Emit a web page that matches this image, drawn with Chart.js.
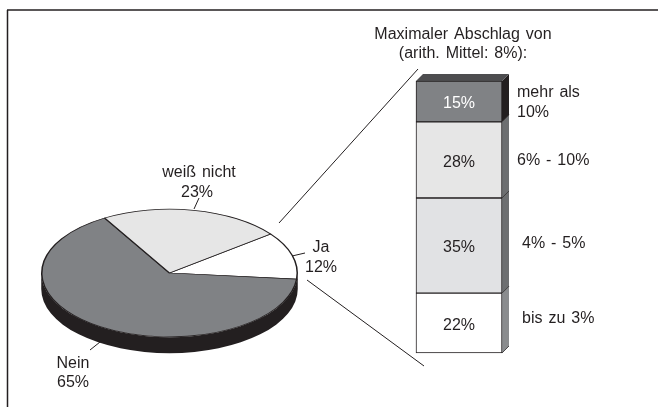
<!DOCTYPE html>
<html>
<head>
<meta charset="utf-8">
<script src="https://cdn.jsdelivr.net/npm/chart.js@4"></script>
<style>
html, body { margin: 0; padding: 0; background: #fff; }
#wrap { position: relative; width: 658px; height: 407px; overflow: hidden; }
canvas { position: absolute; left: 0; top: 0; }
</style>
</head>
<body>
<div id="wrap">
    <canvas id="pie" width="658" height="407"></canvas>
    <canvas id="bar" width="658" height="407"></canvas>
</div>
<script>
const pieLabels = ["Ja", "Nein", "weiß nicht"];
const pieValues = [12, 65, 23];
const pieColors = ["#ffffff", "#808285", "#e6e6e6"];

const barLabels = ["bis zu 3%", "4% - 5%", "6% - 10%", "mehr als 10%"];
const barValues = [22, 35, 28, 15];
const barColors = ["#ffffff", "#e1e2e4", "#e6e6e6", "#808285"];
const barSideColors = ["#8a8c8e", "#6d6f71", "#6d6f71", "#231f20"];
const barTextColors = ["#231f20", "#231f20", "#231f20", "#ffffff"];

const FONT = '16px "Liberation Sans", Arial, sans-serif';
const INK = "#231f20";
const SQUASH = 0.5;
const PIE_DEPTH = 16;
const BAR_DEPTH = 7;

// free text: [text, x, y, align]
const notes = [
    ["Maximaler Abschlag von", 463, 39, "center"],
    ["(arith. Mittel: 8%):", 463, 58, "center"],
    ["weiß nicht", 199, 177, "center"],
    ["23%", 197, 197, "center"],
    ["Ja", 321, 252, "center"],
    ["12%", 321, 272, "center"],
    ["Nein", 73, 368, "center"],
    ["65%", 73, 387, "center"],
    ["mehr als", 517, 97, "left"],
    ["10%", 517, 117, "left"],
    ["6% - 10%", 517, 165, "left"],
    ["4% - 5%", 522, 248, "left"],
    ["bis zu 3%", 522, 323, "left"],
];

// frame: [x1, y1, x2, y2]
const frame = [
    [7.5, 407, 7.5, 10],
    [7, 10, 658, 10],
];

// connector and leader lines: [x1, y1, x2, y2]
const rules = [
    [279, 223, 418, 69],
    [307, 280, 424, 366],
    [194, 209, 199, 198],
    [292, 256, 305, 253],
    [90, 350, 100, 342],
];

const squashPie = {
    id: "squashPie",
    beforeDatasetsDraw(chart) {
        const ctx = chart.ctx;
        const arc = chart.getDatasetMeta(0).data[0];
        const r = arc.outerRadius + 0.5;
        // rim of the disc, below the top face
        ctx.save();
        ctx.fillStyle = "#231f20";
        ctx.beginPath();
        ctx.ellipse(arc.x, arc.y + PIE_DEPTH, r, r * SQUASH, 0, 0, Math.PI);
        ctx.lineTo(arc.x - r, arc.y);
        ctx.ellipse(arc.x, arc.y, r, r * SQUASH, 0, Math.PI, 0, true);
        ctx.closePath();
        ctx.fill();
        ctx.restore();

        ctx.save();
        ctx.translate(arc.x, arc.y);
        ctx.scale(1, SQUASH);
        ctx.translate(-arc.x, -arc.y);
    },
    afterDatasetsDraw(chart) {
        chart.ctx.restore();
    },
};

const barFaces = {
    id: "barFaces",
    beforeDatasetsDraw(chart) {
        const ctx = chart.ctx;
        ctx.save();
        ctx.strokeStyle = INK;
        ctx.lineWidth = 0.75;
        chart.data.datasets.forEach((ds, i) => {
            const el = chart.getDatasetMeta(i).data[0];
            const right = el.x + el.width / 2;
            ctx.fillStyle = barSideColors[i];
            ctx.beginPath();
            ctx.moveTo(right, el.base);
            ctx.lineTo(right + BAR_DEPTH, el.base - BAR_DEPTH);
            ctx.lineTo(right + BAR_DEPTH, el.y - BAR_DEPTH);
            ctx.lineTo(right, el.y);
            ctx.closePath();
            ctx.fill();
            ctx.beginPath();
            ctx.moveTo(right, el.base);
            ctx.lineTo(right + BAR_DEPTH, el.base - BAR_DEPTH);
            ctx.stroke();
            if (i === chart.data.datasets.length - 1) {
                ctx.fillStyle = "#4d4d4f";
                ctx.beginPath();
                ctx.moveTo(el.x - el.width / 2, el.y);
                ctx.lineTo(el.x - el.width / 2 + BAR_DEPTH, el.y - BAR_DEPTH);
                ctx.lineTo(right + BAR_DEPTH, el.y - BAR_DEPTH);
                ctx.lineTo(right, el.y);
                ctx.closePath();
                ctx.fill();
            }
        });
        ctx.restore();
    },
    afterDatasetsDraw(chart) {
        const ctx = chart.ctx;
        ctx.save();
        ctx.font = FONT;
        ctx.textAlign = "center";
        ctx.textBaseline = "middle";
        chart.data.datasets.forEach((ds, i) => {
            const el = chart.getDatasetMeta(i).data[0];
            ctx.fillStyle = barTextColors[i];
            ctx.fillText(ds.data[0] + "%", el.x, (el.y + el.base) / 2 + 2.5);
        });
        ctx.restore();
    },
};

const annotations = {
    id: "annotations",
    afterDraw(chart) {
        const ctx = chart.ctx;
        ctx.save();
        ctx.strokeStyle = INK;
        const stroke = ([x1, y1, x2, y2]) => {
            ctx.beginPath();
            ctx.moveTo(x1, y1);
            ctx.lineTo(x2, y2);
            ctx.stroke();
        };
        ctx.lineWidth = 1.5;
        frame.forEach(stroke);
        ctx.lineWidth = 1;
        rules.forEach(stroke);
        ctx.font = FONT;
        ctx.wordSpacing = "1.5px";
        ctx.fillStyle = INK;
        notes.forEach(([text, x, y, align]) => {
            ctx.textAlign = align;
            ctx.fillText(text, x, y);
        });
        ctx.restore();
    },
};

new Chart(document.getElementById("pie"), {
    type: "pie",
    data: {
        labels: pieLabels,
        datasets: [{
            data: pieValues,
            backgroundColor: pieColors,
            borderColor: INK,
            borderWidth: 1.5,
        }],
    },
    plugins: [squashPie, annotations],
    options: {
        responsive: false,
        animation: false,
        rotation: 52.3,
        layout: { padding: { left: 41, right: 360, top: 144.5, bottom: 5.5 } },
        plugins: { legend: { display: false }, tooltip: { enabled: false } },
    },
});

new Chart(document.getElementById("bar"), {
    type: "bar",
    data: {
        labels: ["Abschlag"],
        datasets: barValues.map((v, i) => ({
            label: barLabels[i],
            data: [v],
            backgroundColor: barColors[i],
            borderColor: INK,
            borderWidth: 1,
            borderSkipped: false,
            clip: false,
            barPercentage: 1,
            categoryPercentage: 1,
        })),
    },
    plugins: [barFaces],
    options: {
        responsive: false,
        animation: false,
        layout: { padding: { left: 416, right: 156, top: 81, bottom: 54 } },
        scales: {
            x: { stacked: true, display: false },
            y: { stacked: true, display: false, min: 0, max: 100 },
        },
        plugins: { legend: { display: false }, tooltip: { enabled: false } },
    },
});
</script>
</body>
</html>
